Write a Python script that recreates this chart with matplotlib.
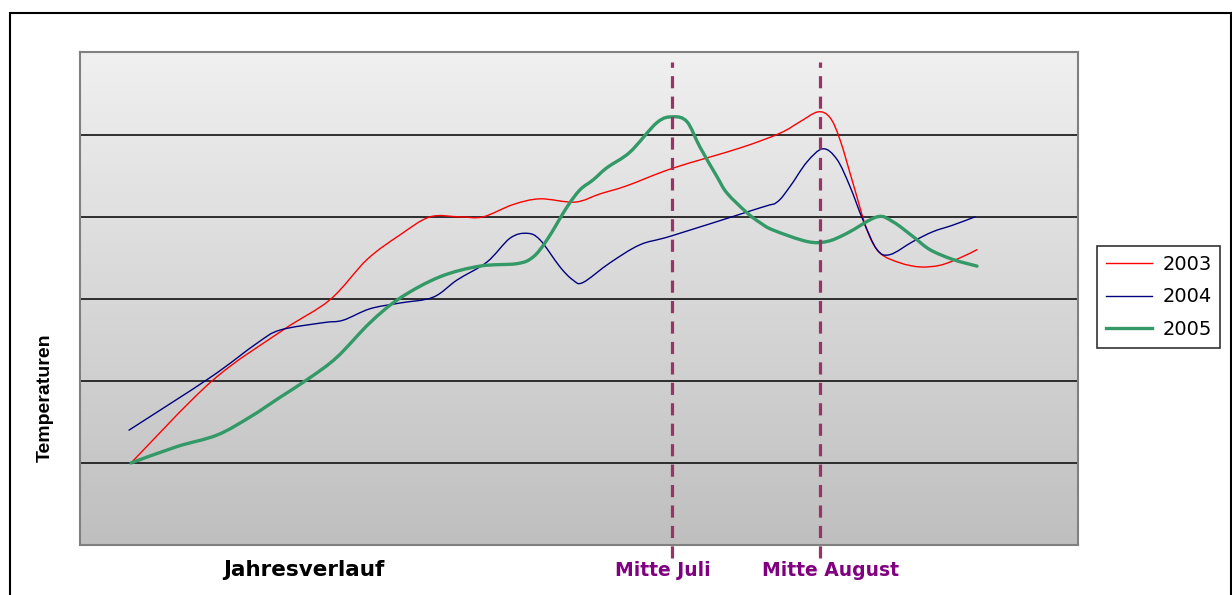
import numpy as np
import matplotlib
matplotlib.use("Agg")
import matplotlib.pyplot as plt
from matplotlib.path import Path
from matplotlib.patches import PathPatch, Rectangle
from matplotlib.lines import Line2D

# data (x: position along the year, y: temperature band)
x_2003 = [5.1, 13.2, 20.3, 25.0, 28.7, 32.0, 35.0, 38.0, 40.3, 43.3, 46.0, 49.5,
          52.0, 54.7, 59.2, 66.0, 70.0, 72.0, 73.8, 75.0, 76.0, 77.3, 78.7, 80.0,
          82.0, 84.0, 86.0, 88.0, 89.7]
y_2003 = [1.00, 2.00, 2.62, 2.99, 3.48, 3.78, 4.00, 4.00, 4.00, 4.15, 4.22, 4.18,
          4.28, 4.38, 4.59, 4.84, 5.02, 5.16, 5.28, 5.21, 4.94, 4.41, 3.84, 3.56,
          3.44, 3.39, 3.41, 3.50, 3.60]

x_2004 = [4.9, 13.0, 17.7, 20.0, 24.3, 26.3, 29.0, 32.0, 35.3, 37.7, 40.7, 43.0,
          44.7, 46.0, 48.0, 49.3, 50.3, 53.0, 56.0, 59.2, 68.0, 69.7, 71.0, 72.7,
          74.3, 75.7, 77.0, 78.3, 79.7, 81.0, 83.3, 85.3, 87.3, 89.5]
y_2004 = [1.40, 2.04, 2.46, 2.62, 2.71, 2.74, 2.88, 2.95, 3.02, 3.23, 3.45, 3.74,
          3.80, 3.72, 3.39, 3.23, 3.20, 3.44, 3.66, 3.77, 4.11, 4.18, 4.37, 4.67,
          4.83, 4.70, 4.37, 3.96, 3.60, 3.54, 3.70, 3.82, 3.90, 4.00]

x_2005 = [5.1, 9.7, 13.7, 17.0, 20.0, 23.0, 25.7, 29.0, 32.0, 36.0, 40.0, 43.7,
          45.3, 46.7, 48.7, 50.0, 51.3, 52.7, 55.0, 57.7, 59.3, 60.7, 62.0, 63.7,
          64.7, 66.7, 68.0, 69.3, 72.7, 74.7, 76.7, 79.7, 81.3, 83.3, 85.0, 87.3,
          89.7]
y_2005 = [1.00, 1.20, 1.34, 1.56, 1.80, 2.04, 2.29, 2.71, 3.01, 3.27, 3.40, 3.43,
          3.51, 3.72, 4.12, 4.33, 4.45, 4.60, 4.79, 5.15, 5.22, 5.16, 4.85, 4.49,
          4.29, 4.05, 3.93, 3.84, 3.70, 3.70, 3.80, 4.00, 3.94, 3.76, 3.60, 3.48,
          3.40]

years = ["2003", "2004", "2005"]
colors = ["#ff0000", "#000080", "#339966"]
widths = [1.0, 1.0, 2.4]

marks_x = [59.2, 74.0]
marks_labels = ["Mitte Juli", "Mitte August"]


def smooth_path(x, y):
    # Excel style smoothed line: Catmull-Rom through the points as cubic Beziers
    pts = np.column_stack([x, y])
    verts = [pts[0]]
    codes = [Path.MOVETO]
    n = len(pts)
    for i in range(n - 1):
        p0 = pts[i - 1] if i > 0 else pts[i]
        p1 = pts[i]
        p2 = pts[i + 1]
        p3 = pts[i + 2] if i + 2 < n else pts[i + 1]
        verts += [p1 + (p2 - p0) / 6, p2 - (p3 - p1) / 6, p2]
        codes += [Path.CURVE4] * 3
    return Path(verts, codes)


fig = plt.figure(figsize=(12.32, 5.95), dpi=100)
W, H = 1232, 595

# outer frame
fig.patches.append(Rectangle((10 / W, -0.05), 1221 / W, 1 - 13 / H + 0.05,
                             transform=fig.transFigure, fill=False,
                             edgecolor="black", lw=1.5))

ax = fig.add_axes([80 / W, 50 / H, 998 / W, 493 / H])

# gradient background, light at top
grad = np.linspace(0, 1, 256).reshape(-1, 1)
cmap = matplotlib.colors.LinearSegmentedColormap.from_list("g", ["#f0f0f0", "#bfbfbf"])
ax.imshow(grad, extent=[0, 99.8, 0, 6.01], origin="upper", aspect="auto",
          cmap=cmap, zorder=0)
ax.set_xlim(0, 99.8)
ax.set_ylim(0, 6.01)

for v in [1, 2, 3, 4, 5]:
    ax.axhline(v, color="#202020", lw=1.3, zorder=1)

for xs, ys, c, lw in zip([x_2003, x_2004, x_2005], [y_2003, y_2004, y_2005], colors, widths):
    ax.add_patch(PathPatch(smooth_path(xs, ys), facecolor="none", edgecolor=c,
                           lw=lw, zorder=3, capstyle="round", joinstyle="round"))

for mx in marks_x:
    ax.axvline(mx, ymin=-0.027, ymax=0.98, color="#993366", lw=2.3,
               linestyle=(0, (3.8, 2.6)), clip_on=False, zorder=4)

ax.set_xticks([])
ax.set_yticks([])
for s in ax.spines.values():
    s.set_color("#808080")
    s.set_linewidth(1.5)

# labels
fig.text(304 / W, 1 - 570 / H, "Jahresverlauf", ha="center", va="center",
         fontsize=15.5, fontweight="bold", family="DejaVu Sans")
fig.text(45 / W, 1 - 398 / H, "Temperaturen", ha="center", va="center",
         rotation=90, fontsize=14, fontweight="bold", family="Liberation Sans")
for px, lab in zip([663, 831], marks_labels):
    fig.text(px / W, 1 - 570 / H, lab, ha="center", va="center",
             fontsize=13.5, fontweight="bold", color="#800080", family="DejaVu Sans")

handles = [Line2D([], [], color=c, lw=lw) for c, lw in zip(colors, widths)]
leg = fig.legend(handles, years, loc="upper left",
                 bbox_to_anchor=(1097 / W, 1 - 246 / H), fontsize=14,
                 frameon=True, fancybox=False, edgecolor="black",
                 handlelength=2.4, borderpad=0.45, labelspacing=0.7,
                 handletextpad=0.5, borderaxespad=0)
leg.get_frame().set_linewidth(1.2)

fig.savefig("out.png", dpi=100)
